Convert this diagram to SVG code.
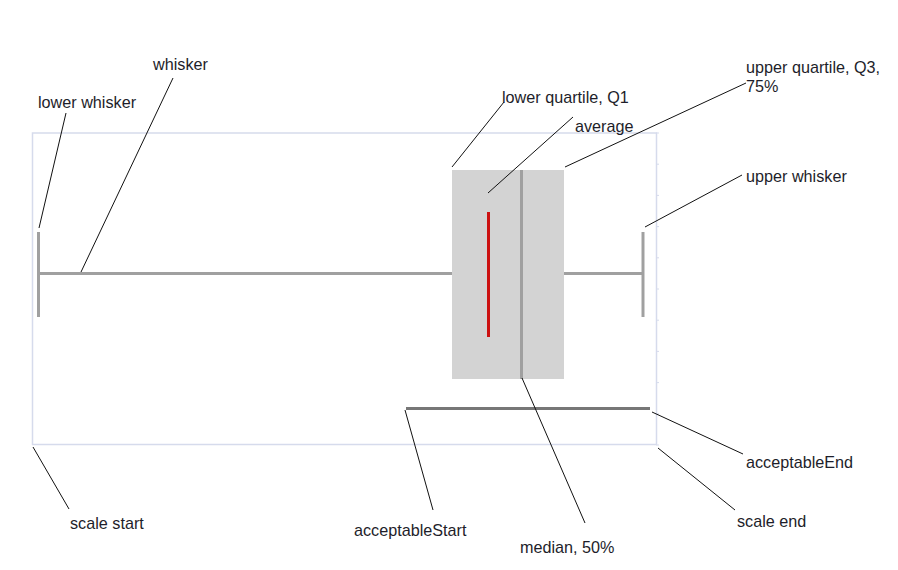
<svg xmlns="http://www.w3.org/2000/svg" width="898" height="570" viewBox="0 0 898 570">
<style>
.lbl{font-family:"Liberation Sans",Arial,sans-serif;font-size:16.2px;fill:#1e1e2a}
.lead{stroke:#111;stroke-width:1;fill:none}
.frame{fill:none;stroke:#d6dbec;stroke-width:1.5}
.tick{stroke:#d6dbec;stroke-width:1}
.wh{stroke:#a0a0a0;stroke-width:3;fill:none}
</style>
<rect width="898" height="570" fill="#fff"/>
<g id="scale">
<rect class="frame" x="32.5" y="133" width="624" height="311.5"/>
<path class="tick" d="M656 164.2h3M656 195.4h3M656 226.6h3M656 257.8h3M656 289h3M656 320.2h3M656 351.4h3M656 382.6h3M656 413.8h3M656 445h3M656 133h3"/>
</g>
<g id="whiskers">
<line class="wh" x1="38.5" y1="232" x2="38.5" y2="317"/>
<line class="wh" x1="38" y1="273.5" x2="452" y2="273.5"/>
<line class="wh" x1="564" y1="273.5" x2="643" y2="273.5"/>
<line class="wh" x1="643" y1="232" x2="643" y2="317"/>
</g>
<g id="box">
<rect x="452" y="170" width="112" height="209" fill="#d3d3d3"/>
<line x1="521.5" y1="170" x2="521.5" y2="379" stroke="#a0a0a0" stroke-width="3"/>
<line x1="488.5" y1="212" x2="488.5" y2="337" stroke="#cc1111" stroke-width="3"/>
</g>
<g id="acceptable">
<line x1="406" y1="408.5" x2="650" y2="408.5" stroke="#777" stroke-width="3"/>
</g>
<g id="connectors">
<line class="lead" x1="66" y1="113" x2="39" y2="228"/>
<line class="lead" x1="173" y1="78" x2="81" y2="272"/>
<line class="lead" x1="504" y1="102" x2="452" y2="167"/>
<line class="lead" x1="573" y1="117" x2="488" y2="193"/>
<line class="lead" x1="746" y1="83" x2="565" y2="167"/>
<line class="lead" x1="742" y1="175" x2="645" y2="227"/>
<line class="lead" x1="652" y1="412" x2="743" y2="454"/>
<line class="lead" x1="658" y1="448" x2="735" y2="510"/>
<line class="lead" x1="522" y1="378" x2="585" y2="523"/>
<line class="lead" x1="405" y1="410" x2="433" y2="510"/>
<line class="lead" x1="33" y1="447" x2="69" y2="509"/>
</g>
<g id="labels">
<text class="lbl" x="153" y="70">whisker</text>
<text class="lbl" x="38" y="108">lower whisker</text>
<text class="lbl" x="502" y="103">lower quartile, Q1</text>
<text class="lbl" x="575" y="132">average</text>
<text class="lbl" x="746" y="73">upper quartile, Q3,</text>
<text class="lbl" x="746" y="92">75%</text>
<text class="lbl" x="746" y="182">upper whisker</text>
<text class="lbl" x="746" y="468">acceptableEnd</text>
<text class="lbl" x="737" y="527">scale end</text>
<text class="lbl" x="520" y="553">median, 50%</text>
<text class="lbl" x="354" y="536">acceptableStart</text>
<text class="lbl" x="70" y="529">scale start</text>
</g>
</svg>
